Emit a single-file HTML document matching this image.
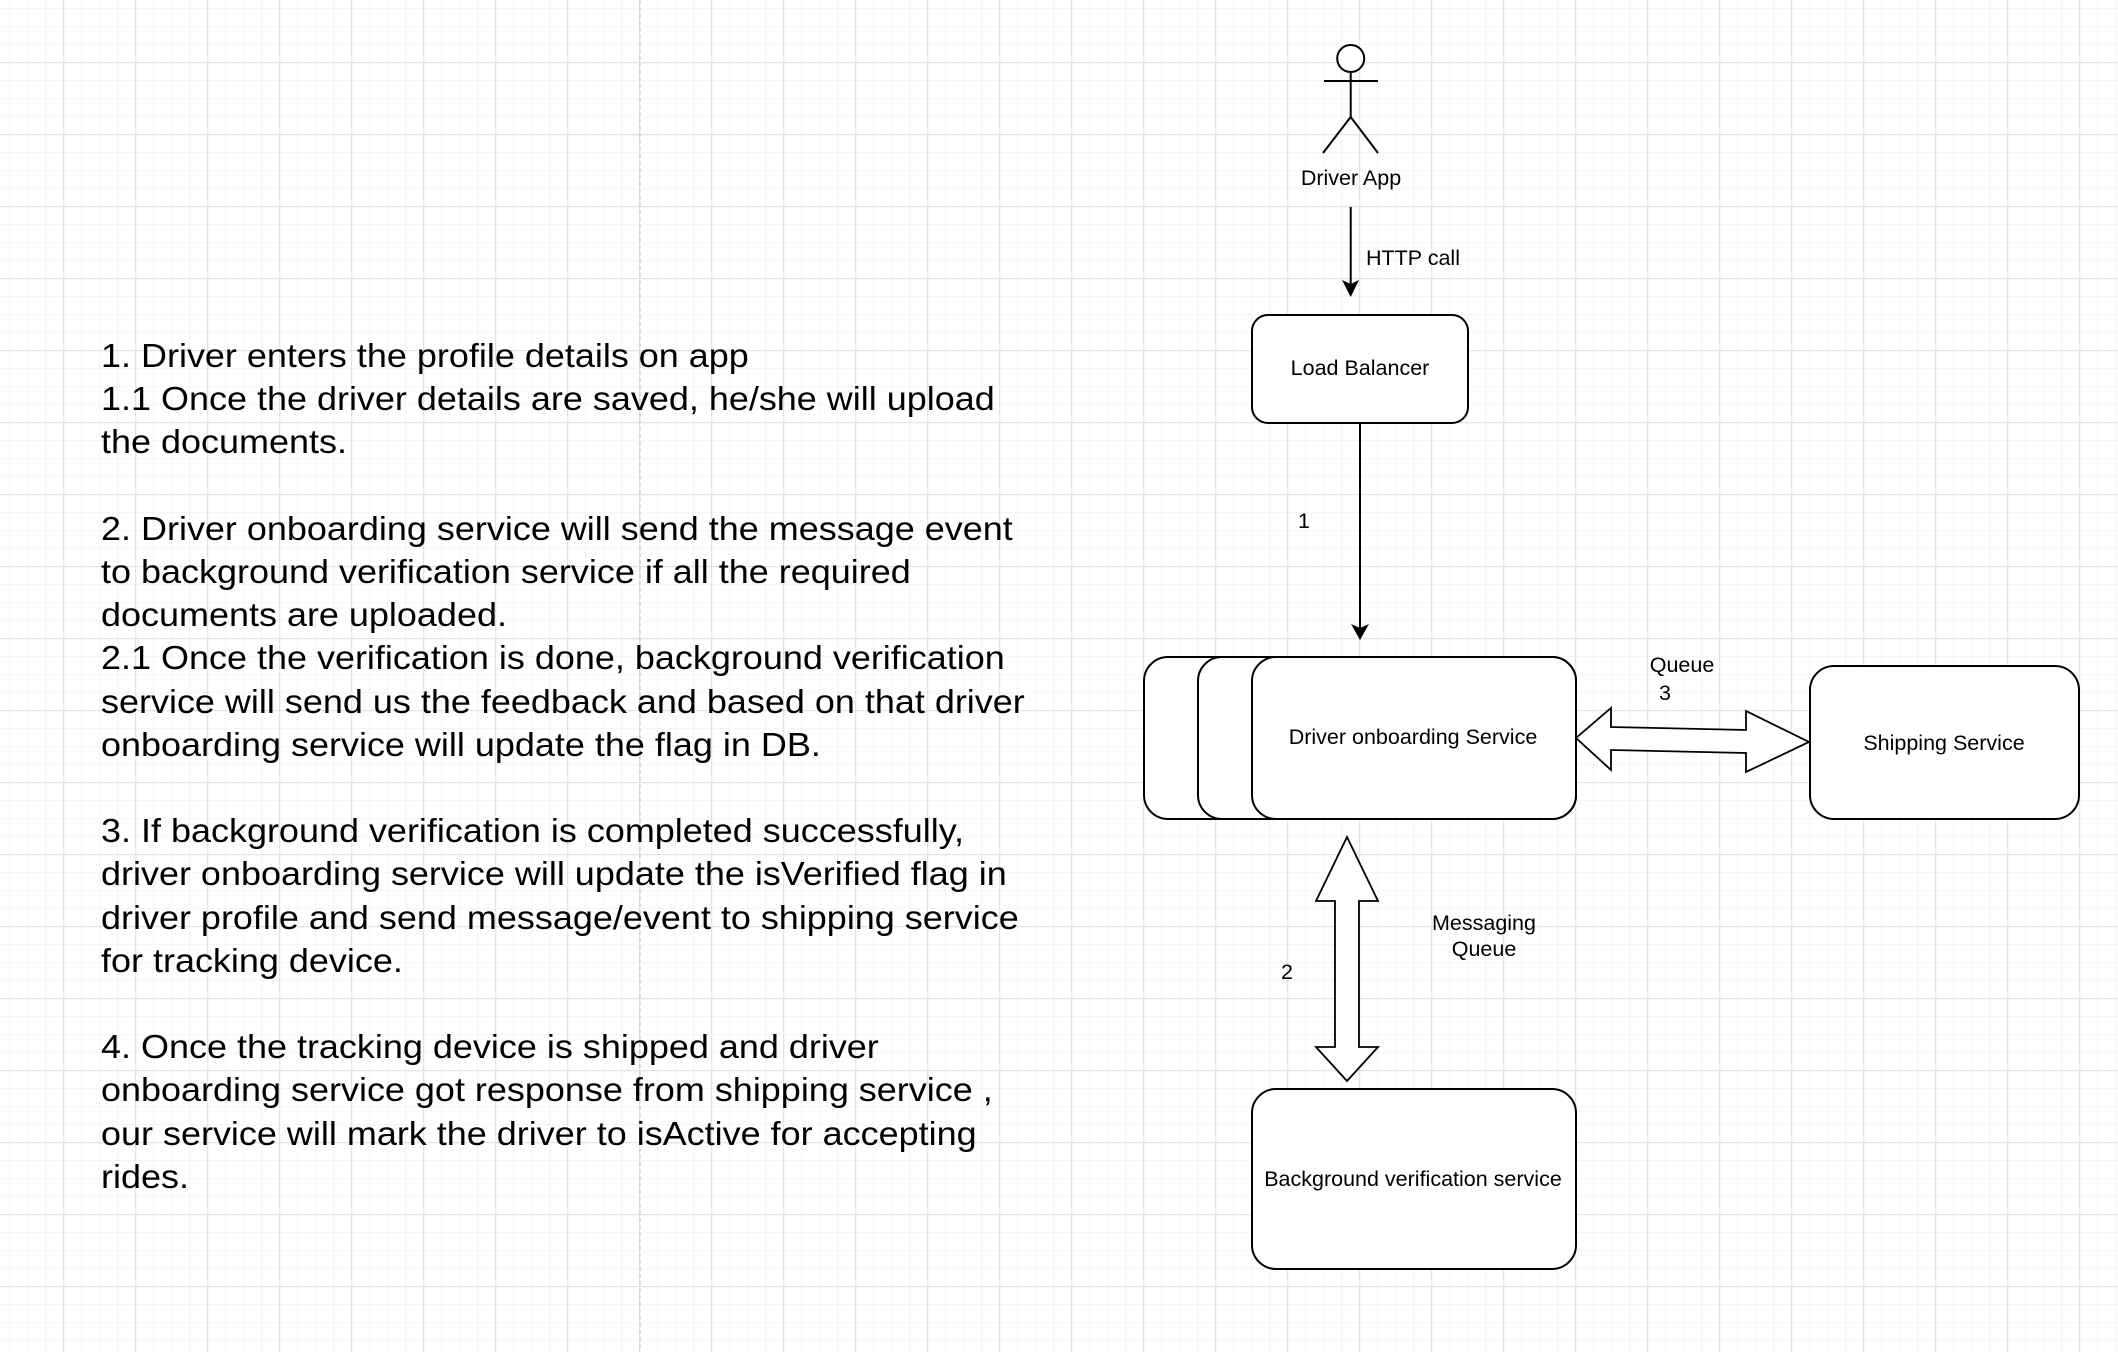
<!DOCTYPE html>
<html><head><meta charset="utf-8"><style>
html,body{margin:0;padding:0;background:#fff;}
body{width:2118px;height:1352px;position:relative;overflow:hidden;}
svg{position:absolute;left:0;top:0;}
.txt{position:absolute;left:101px;top:334px;font-family:"Liberation Sans",Arial,sans-serif;font-size:33px;line-height:43.2px;color:#000;white-space:nowrap;transform:scaleX(1.09);transform-origin:0 0;}
</style></head><body>
<svg width="2118" height="1352" viewBox="0 0 2118 1352" xmlns="http://www.w3.org/2000/svg" font-family="Liberation Sans, Arial, sans-serif">
<defs>
<pattern id="minor" x="9.3" y="8.3" width="18" height="18" patternUnits="userSpaceOnUse">
<path d="M0 0H18M0 0V18" stroke="#efefef" stroke-width="1.3" fill="none"/>
</pattern>
<pattern id="major" x="63.3" y="62.3" width="72" height="72" patternUnits="userSpaceOnUse">
<path d="M0 0H72M0 0V72" stroke="#d6d6d6" stroke-width="1.4" fill="none"/>
</pattern>
</defs>
<rect width="2118" height="1352" fill="#fff"/>
<rect width="2118" height="1352" fill="url(#minor)"/>
<rect width="2118" height="1352" fill="url(#major)"/>
<line x1="640" y1="0" x2="640" y2="1352" stroke="#c8c8c8" stroke-width="1.3" stroke-dasharray="4,3"/>

<g stroke="#000" stroke-width="2" fill="none">
<circle cx="1350.7" cy="58.5" r="13.5" fill="#fff"/>
<line x1="1350.7" y1="72" x2="1350.7" y2="117"/>
<line x1="1324" y1="81" x2="1378" y2="81"/>
<line x1="1350.7" y1="117" x2="1323" y2="153"/>
<line x1="1350.7" y1="117" x2="1378" y2="153"/>
<line x1="1350.7" y1="207" x2="1350.7" y2="290"/>
<rect x="1252" y="315" width="216" height="108" rx="16" fill="#fff"/>
<line x1="1360" y1="423" x2="1360" y2="630"/>
<rect x="1144" y="657" width="432" height="162" rx="24" fill="#fff"/>
<rect x="1198" y="657" width="378" height="162" rx="24" fill="#fff"/>
<rect x="1252" y="657" width="324" height="162" rx="24" fill="#fff"/>
<rect x="1810" y="666" width="269" height="153" rx="24" fill="#fff"/>
<rect x="1252" y="1089" width="324" height="180" rx="24" fill="#fff"/>
<path d="M1576 738 L1611 708 L1611 727 L1746 730 L1746 711 L1809 742 L1746 772 L1746 753 L1611 750 L1611 770 Z" fill="#fff" stroke-width="1.8"/>
<path d="M1347 837 L1378 901 L1359 901 L1359 1047 L1378 1047 L1347 1081 L1316 1047 L1335 1047 L1335 901 L1316 901 Z" fill="#fff" stroke-width="1.8"/>
</g>
<path d="M1342 280 L1350.7 284 L1359 280 L1350.7 297 Z" fill="#000"/>
<path d="M1351 624 L1360 628 L1369 624 L1360 640 Z" fill="#000"/>

<g font-size="21.5" fill="#000" text-anchor="middle">
<text x="1351" y="185">Driver App</text>
<text x="1366" y="265" text-anchor="start">HTTP call</text>
<text x="1360" y="375">Load Balancer</text>
<text x="1304" y="528">1</text>
<text x="1413" y="744">Driver onboarding Service</text>
<text x="1944" y="750">Shipping Service</text>
<text x="1682" y="672">Queue</text>
<text x="1665" y="700">3</text>
<text x="1484" y="930">Messaging</text>
<text x="1484" y="956">Queue</text>
<text x="1287" y="979">2</text>
<text x="1413" y="1186">Background verification service</text>
</g>
</svg>
<div class="txt">1. Driver enters the profile details on app<br>1.1 Once the driver details are saved, he/she will upload<br>the documents.<br><br>2. Driver onboarding service will send the message event<br>to background verification service if all the required<br>documents are uploaded.<br>2.1 Once the verification is done, background verification<br>service will send us the feedback and based on that driver<br>onboarding service will update the flag in DB.<br><br>3. If background verification is completed successfully,<br>driver onboarding service will update the isVerified flag in<br>driver profile and send message/event to shipping service<br>for tracking device.<br><br>4. Once the tracking device is shipped and driver<br>onboarding service got response from shipping service ,<br>our service will mark the driver to isActive for accepting<br>rides.</div>
</body></html>
